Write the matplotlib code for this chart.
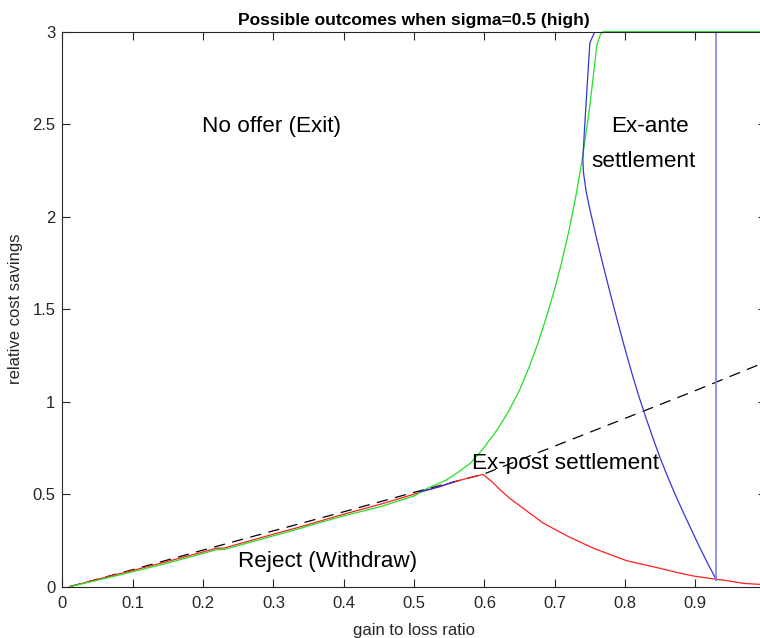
import numpy as np
import matplotlib
matplotlib.use('Agg')
import matplotlib.pyplot as plt

plt.rcParams['font.family'] = ['Liberation Sans', 'DejaVu Sans']

# dashed reference line
dash_x = [0.01, 0.1, 0.2, 0.3, 0.4, 0.5, 0.6, 0.7, 0.8, 0.9, 1.0]
dash_y = [0.0, 0.092, 0.198, 0.302, 0.405, 0.51, 0.61, 0.76, 0.91, 1.06, 1.215]

# green boundary
green_x = [0.01, 0.05, 0.1, 0.15, 0.2, 0.219, 0.23, 0.3, 0.338, 0.36, 0.4, 0.4515, 0.5,
           0.51, 0.519, 0.532, 0.546, 0.562, 0.58, 0.598, 0.618, 0.634, 0.65, 0.664,
           0.677, 0.69, 0.70, 0.71, 0.72, 0.73, 0.74, 0.75, 0.76, 0.765, 0.769, 1.0]
green_y = [0.0, 0.035, 0.081, 0.128, 0.18, 0.2, 0.201, 0.275, 0.315, 0.34, 0.383, 0.432, 0.49,
           0.512, 0.532, 0.553, 0.577, 0.617, 0.667, 0.745, 0.847, 0.945, 1.063, 1.19,
           1.325, 1.48, 1.61, 1.755, 1.92, 2.11, 2.33, 2.6, 2.93, 2.985, 3.0, 3.0]

# red boundary
red_x = [0.01, 0.05, 0.1, 0.15, 0.2, 0.219, 0.23, 0.3, 0.338, 0.36, 0.4, 0.4515, 0.5,
         0.51, 0.558, 0.575, 0.598, 0.61, 0.622, 0.636, 0.66, 0.684, 0.72, 0.755, 0.78,
         0.802, 0.85, 0.875, 0.897, 0.93, 0.95, 0.968, 0.99, 1.0]
red_y = [0.0, 0.04, 0.088, 0.137, 0.188, 0.208, 0.209, 0.284, 0.323, 0.348, 0.392, 0.445, 0.5,
         0.512, 0.568, 0.585, 0.607, 0.57, 0.525, 0.478, 0.41, 0.343, 0.27, 0.208, 0.172,
         0.141, 0.099, 0.076, 0.058, 0.04, 0.03, 0.018, 0.013, 0.012]

# blue boundary (short lower piece + upper piece)
blue_low_x = [0.508, 0.52, 0.537, 0.558]
blue_low_y = [0.514, 0.524, 0.541, 0.568]
blue_x = [0.757, 0.75, 0.746, 0.742, 0.74, 0.741, 0.745, 0.75, 0.76, 0.77, 0.78, 0.79,
          0.80, 0.81, 0.82, 0.83, 0.84, 0.85, 0.86, 0.87, 0.88, 0.89, 0.90, 0.91,
          0.92, 0.93]
blue_y = [3.0, 2.94, 2.7, 2.45, 2.31, 2.235, 2.13, 2.04, 1.875, 1.72, 1.57, 1.425,
          1.285, 1.15, 1.025, 0.91, 0.8, 0.695, 0.6, 0.51, 0.425, 0.343, 0.262, 0.183,
          0.108, 0.036]
vline_x = 0.93
vline_y = [0.036, 3.0]

fig = plt.figure(figsize=(7.6, 6.38), dpi=100)
ax = fig.add_axes([0.0821, 0.0804, 0.9254, 0.8699])

ax.plot(dash_x, dash_y, color='black', linestyle=(0, (9, 6)), linewidth=0.9)
ax.plot(red_x, red_y, color='#ff2020', linewidth=0.9)
ax.plot(green_x, green_y, color='#22e022', linewidth=0.9, clip_on=False)
ax.plot(blue_low_x, blue_low_y, color='#2a2ae0', linewidth=0.9)
ax.plot(blue_x, blue_y, color='#3535d8', linewidth=0.9)
ax.plot([vline_x, vline_x], vline_y, color='#8080f0', linewidth=1.2)

fs = 16.2
ax.text(0.298, 2.49, 'No offer (Exit)', fontsize=fs, ha='center', va='center')
ax.text(0.835, 2.49, 'Ex-ante', fontsize=fs, ha='center', va='center')
ax.text(0.826, 2.30, 'settlement', fontsize=fs, ha='center', va='center')
ax.text(0.716, 0.665, 'Ex-post settlement', fontsize=fs, ha='center', va='center')
ax.text(0.377, 0.135, 'Reject (Withdraw)', fontsize=fs, ha='center', va='center')

ax.set_xlim(0, 1)
ax.set_ylim(0, 3)
ax.set_xticks(np.arange(0, 1.0, 0.1))
ax.set_xticklabels(['0', '0.1', '0.2', '0.3', '0.4', '0.5', '0.6', '0.7', '0.8', '0.9'])
ax.set_yticks([0, 0.5, 1, 1.5, 2, 2.5, 3])
ax.set_yticklabels(['0', '0.5', '1', '1.5', '2', '2.5', '3'])
ax.tick_params(direction='in', top=True, right=True, length=6, width=0.8,
               labelsize=12, colors='#262626', pad=5)
ax.tick_params(axis='x', pad=7)
for s in ax.spines.values():
    s.set_color('#262626')
    s.set_linewidth(0.8)

ax.set_xlabel('gain to loss ratio', fontsize=12, color='#262626', labelpad=8)
ax.set_ylabel('relative cost savings', fontsize=12, color='#262626', labelpad=7)
ax.set_title('Possible outcomes when sigma=0.5 (high)', fontsize=12.5,
             fontweight='bold', pad=5)

fig.savefig('out.png', dpi=100)
